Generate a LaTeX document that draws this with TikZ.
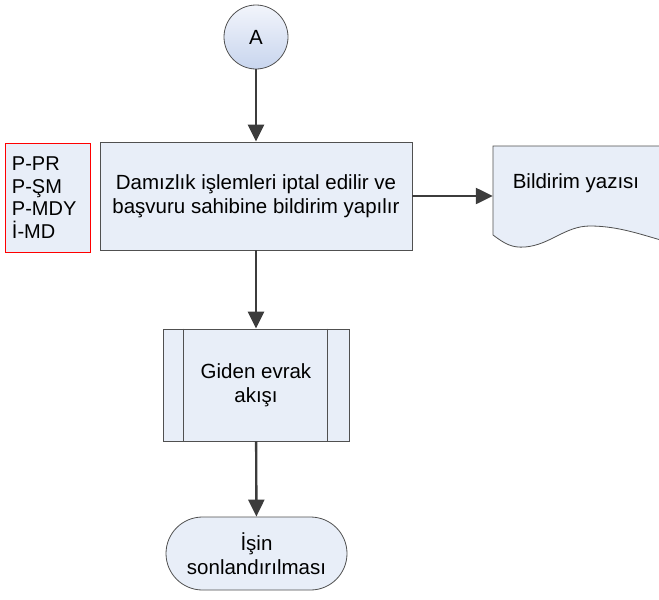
\documentclass[tikz,border=0pt]{standalone}
\usepackage{fontspec}
\setmainfont{Liberation Sans}
\usetikzlibrary{arrows.meta,calc}
\definecolor{boxfill}{HTML}{E8EEF8}
\definecolor{edge}{HTML}{505050}
\definecolor{arrowc}{HTML}{3C3C3C}

\begin{document}
\begin{tikzpicture}[x=1pt,y=-1pt,
  proc/.style={draw=edge, fill=boxfill, align=center, font=\fontsize{20.5}{24}\selectfont, inner sep=0pt, line width=0.8pt},
  conn/.style={circle, draw=edge, line width=0.8pt, top color={rgb,255:red,242;green,245;blue,251}, bottom color={rgb,255:red,200;green,213;blue,238}, font=\fontsize{20.5}{24}\selectfont, minimum size=64pt, inner sep=0pt},
  note/.style={draw=red, fill=boxfill, align=left, font=\fontsize{20}{22.7}\selectfont, text width=71pt, inner xsep=7pt, minimum height=109pt},
  doctext/.style={align=center, font=\fontsize{20.5}{24}\selectfont, inner sep=0pt},
  arr/.style={-{Triangle[length=17pt,width=16pt]}, draw=arrowc, fill=arrowc, line width=2.4pt}]
\useasboundingbox (0,0) rectangle (659,600);
\node[conn] (A) at (256,37) {A};
\node[proc, minimum width=312pt, minimum height=108pt] (P) at (256,196) {Damızlık işlemleri iptal edilir ve\\başvuru sahibine bildirim yapılır};
\node[note] (ref) at (47.5,197.5) {P-PR\\P-ŞM\\P-MDY\\İ-MD};
% document shape, cut by the right edge
\path[fill=boxfill, draw=edge, line width=0.8pt] (668,146) -- (493,146) -- (493,235)
  .. controls (505,244) and (512,248) .. (525,247)
  .. controls (550,245) and (565,226) .. (590,226)
  .. controls (620,226) and (645,236) .. (668,242) -- cycle;
\node[doctext, minimum width=166pt] (doc) at (576,183) {Bildirim yazısı};
\node[proc, minimum width=186pt, minimum height=112pt] (G) at (256,385) {Giden evrak\\akışı};
\draw[draw=edge, line width=0.8pt] ($(G.north west)+(21,0)$) -- ($(G.south west)+(21,0)$);
\draw[draw=edge, line width=0.8pt] ($(G.north east)+(-22,0)$) -- ($(G.south east)+(-22,0)$);
\node[proc, rounded corners=36.5pt, minimum width=181pt, minimum height=73pt] (T) at (256.5,553.5) {İşin\\sonlandırılması};
\draw[arr] (A) -- (P);
\draw[arr] (P.east) -- (P.east -| doc.west);
\draw[arr] (P) -- (G);
\draw[arr] (G) -- (T);
\end{tikzpicture}
\end{document}
